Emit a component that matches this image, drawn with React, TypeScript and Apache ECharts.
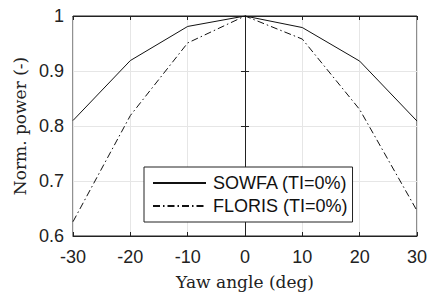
import React, { useEffect, useRef } from "react";
import * as echarts from "echarts";

const yawAngles = [-30, -20, -10, 0, 10, 20, 30];
const sowfa = [0.81, 0.919, 0.981, 1.0, 0.979, 0.918, 0.809];
const floris = [0.626, 0.819, 0.951, 1.0, 0.958, 0.83, 0.646];
const seriesNames = ["SOWFA (TI=0%)", "FLORIS (TI=0%)"];

export default function App() {
  const ref = useRef<HTMLDivElement>(null);
  useEffect(() => {
    const chart = echarts.init(ref.current!, null, { renderer: "svg" });
    const sans = "'Liberation Sans', Arial, sans-serif";
    const serif = "'DejaVu Serif', 'Liberation Serif', serif";
    const xAxisBase = {
      type: "value" as const,
      min: -30,
      max: 30,
      interval: 10,
    };
    const yAxisBase = {
      type: "value" as const,
      min: 0.6,
      max: 1,
      interval: 0.1,
    };
    chart.setOption({
      animation: false,
      backgroundColor: "#fff",
      grid: {
        left: 73,
        top: 16,
        width: 345,
        height: 223,
        show: true,
        borderColor: "#222",
        borderWidth: 1,
        backgroundColor: "transparent",
      },
      xAxis: [
        {
          ...xAxisBase,
          position: "bottom",
          name: "Yaw angle (deg)",
          nameLocation: "middle",
          nameGap: 37,
          nameTextStyle: { fontFamily: serif, fontSize: 17, color: "#222" },
          axisLine: { show: true, lineStyle: { color: "#222" } },
          axisTick: { show: true, inside: true, length: 4, lineStyle: { color: "#222" } },
          axisLabel: {
            fontFamily: sans,
            fontSize: 18,
            color: "#222",
            margin: 12,
            formatter: (v: number) => String(v),
          },
          splitLine: { show: true, lineStyle: { color: "#e6e6e6", width: 1 } },
        },
        {
          ...xAxisBase,
          position: "top",
          axisLine: { show: true, lineStyle: { color: "#222" } },
          axisTick: { show: true, inside: true, length: 4, lineStyle: { color: "#222" } },
          axisLabel: { show: false },
          splitLine: { show: false },
        },
      ],
      yAxis: [
        {
          ...yAxisBase,
          position: "left",
          name: "Norm. power (-)",
          nameLocation: "middle",
          nameGap: 44,
          nameTextStyle: { fontFamily: serif, fontSize: 17, color: "#222" },
          axisLine: { show: true, lineStyle: { color: "#222" } },
          axisTick: { show: true, inside: true, length: 4, lineStyle: { color: "#222" } },
          axisLabel: {
            fontFamily: sans,
            fontSize: 18,
            color: "#222",
            margin: 9,
            formatter: (v: number) => (Math.abs(v - 1) < 1e-9 ? "1" : v.toFixed(1)),
          },
          splitLine: { show: true, lineStyle: { color: "#e6e6e6", width: 1 } },
        },
        {
          ...yAxisBase,
          position: "right",
          axisLine: { show: true, lineStyle: { color: "#222" } },
          axisTick: { show: true, inside: true, length: 4, lineStyle: { color: "#222" } },
          axisLabel: { show: false },
          splitLine: { show: false },
        },
      ],
      legend: {
        left: 144,
        top: 167,
        orient: "vertical",
        itemWidth: 53,
        itemHeight: 14,
        itemGap: 5,
        padding: [7, 5, 7, 8],
        borderColor: "#222",
        borderWidth: 1,
        backgroundColor: "#fff",
        itemStyle: { opacity: 0 },
        textStyle: { fontFamily: sans, fontSize: 18, color: "#111", padding: [0, 0, 0, 2] },
        data: seriesNames,
      },
      series: [
        {
          name: seriesNames[0],
          type: "line",
          data: yawAngles.map((x, i) => [x, sowfa[i]]),
          symbol: "none",
          lineStyle: { color: "#111", width: 1 },
          itemStyle: { color: "#111" },
        },
        {
          name: seriesNames[1],
          type: "line",
          data: yawAngles.map((x, i) => [x, floris[i]]),
          symbol: "none",
          lineStyle: { color: "#111", width: 1, type: [7, 3, 1.5, 3] },
          itemStyle: { color: "#111" },
        },
      ],
    });
    return () => chart.dispose();
  }, []);
  return <div ref={ref} style={{ width: 430, height: 295, position: "absolute", left: 0, top: 0 }} />;
}
